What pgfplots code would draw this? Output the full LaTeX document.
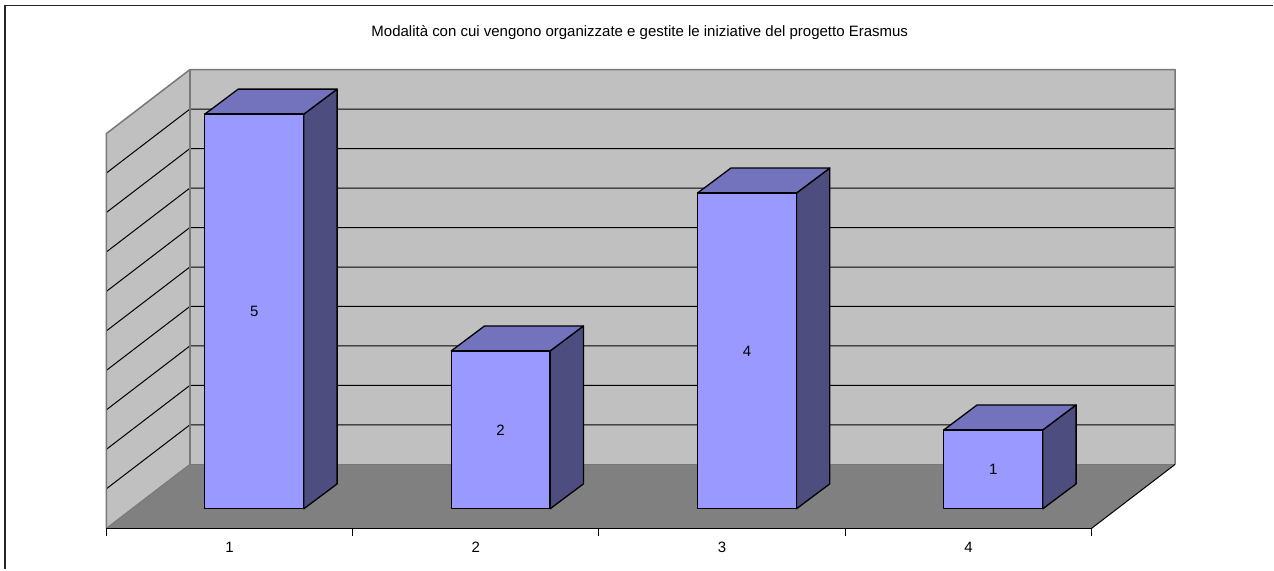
\documentclass[border=0pt]{standalone}
\usepackage{fontspec}
\setmainfont{Liberation Sans}
\usepackage{pgfplots}
\pgfplotsset{compat=1.18}

\definecolor{wall}{HTML}{C0C0C0}
\definecolor{floorgray}{HTML}{808080}
\definecolor{edgegray}{HTML}{787878}
\definecolor{barfront}{HTML}{9999FF}
\definecolor{bartop}{HTML}{7373BD}
\definecolor{barside}{HTML}{4D4D80}

\pgfplotsset{
	gridl/.style={black, line width=1pt, line join=round},
	front/.style={fill=barfront, draw=black, line width=1.3pt, line join=round},
	topf/.style={fill=bartop, draw=black, line width=1.3pt, line join=round},
	sidef/.style={fill=barside, draw=black, line width=1.3pt, line join=round},
}

\begin{document}
\begin{tikzpicture}
\begin{axis}[
	scale only axis,
	width=986pt, height=459pt,
	xmin=0.5, xmax=4.5,
	ymin=-0.2468, ymax=5.5633,
	clip=false,
	axis on top,
	no markers,
	axis x line*=bottom,
	axis y line=none,
	axis line style={black, line width=1.3pt},
	xtick={1,2,3,4},
	xticklabels={1,2,3,4},
	major tick length=0pt,
	tick align=outside,
	tick style={black, line width=1pt},
	extra x ticks={0.5,1.5,2.5,3.5,4.5},
	extra x tick labels={},
	extra x tick style={major tick length=8pt, tick align=outside},
	xticklabel shift=10.3pt,
	tick label style={font=\fontsize{15}{18}\selectfont},
	/pgf/number format/assume math mode=true,
	every axis title shift=0pt,
	title={Modalità con cui vengono organizzate e gestite le iniziative del progetto Erasmus},
	title style={at={(axis description cs:0.5414,1.080)}, anchor=center, font=\fontsize{15}{18}\selectfont},
]
	% outer frame (left and top only)
	\addplot[black!85, line width=1.8pt] coordinates {(0.0887,-0.7658)(0.0887,6.3760)(5.2368,6.3760)};

	% walls and floor
	\addplot[fill=wall, draw=none] coordinates {(0.5,-0.2468)(0.5,4.7532)(0.8391,5.5633)(4.8391,5.5633)(4.8391,0.5633)(0.8391,0.5633)} -- cycle;
	\addplot[fill=floorgray, draw=none] coordinates {(0.5,-0.2468)(0.8391,0.5633)(4.8391,0.5633)(4.5,-0.2468)} -- cycle;

	% gridlines at 0.5 steps, side wall then back wall
	\addplot[gridl] coordinates {(0.5,0.2532)(0.8391,1.0633)(4.8391,1.0633)};
	\addplot[gridl] coordinates {(0.5,0.7532)(0.8391,1.5633)(4.8391,1.5633)};
	\addplot[gridl] coordinates {(0.5,1.2532)(0.8391,2.0633)(4.8391,2.0633)};
	\addplot[gridl] coordinates {(0.5,1.7532)(0.8391,2.5633)(4.8391,2.5633)};
	\addplot[gridl] coordinates {(0.5,2.2532)(0.8391,3.0633)(4.8391,3.0633)};
	\addplot[gridl] coordinates {(0.5,2.7532)(0.8391,3.5633)(4.8391,3.5633)};
	\addplot[gridl] coordinates {(0.5,3.2532)(0.8391,4.0633)(4.8391,4.0633)};
	\addplot[gridl] coordinates {(0.5,3.7532)(0.8391,4.5633)(4.8391,4.5633)};
	\addplot[gridl] coordinates {(0.5,4.2532)(0.8391,5.0633)(4.8391,5.0633)};

	% wall outlines
	\addplot[edgegray, line width=1.5pt, line join=round] coordinates {(0.5,-0.2468)(0.5,4.7532)(0.8391,5.5633)(4.8391,5.5633)(4.8391,0.5633)};
	\addplot[edgegray, line width=1.5pt] coordinates {(0.8391,5.5633)(0.8391,0.5633)(4.8391,0.5633)};
	\addplot[edgegray, line width=1pt] coordinates {(0.5,-0.2468)(0.8391,0.5633)};
	\addplot[black, line width=1pt] coordinates {(4.5,-0.2468)(4.8391,0.5633)};

	% bar 1, value 5
	\addplot[sidef] coordinates {(1.3016,0)(1.4371,0.3165)(1.4371,5.3165)(1.3016,5)} -- cycle;
	\addplot[topf] coordinates {(0.9,5)(1.0355,5.3165)(1.4371,5.3165)(1.3016,5)} -- cycle;
	\addplot[front] coordinates {(0.9,0)(0.9,5)(1.3016,5)(1.3016,0)} -- cycle;
	% bar 2, value 2
	\addplot[sidef] coordinates {(2.3016,0)(2.4371,0.3165)(2.4371,2.3165)(2.3016,2)} -- cycle;
	\addplot[topf] coordinates {(1.9,2)(2.0355,2.3165)(2.4371,2.3165)(2.3016,2)} -- cycle;
	\addplot[front] coordinates {(1.9,0)(1.9,2)(2.3016,2)(2.3016,0)} -- cycle;
	% bar 3, value 4
	\addplot[sidef] coordinates {(3.3016,0)(3.4371,0.3165)(3.4371,4.3165)(3.3016,4)} -- cycle;
	\addplot[topf] coordinates {(2.9,4)(3.0355,4.3165)(3.4371,4.3165)(3.3016,4)} -- cycle;
	\addplot[front] coordinates {(2.9,0)(2.9,4)(3.3016,4)(3.3016,0)} -- cycle;
	% bar 4, value 1
	\addplot[sidef] coordinates {(4.3016,0)(4.4371,0.3165)(4.4371,1.3165)(4.3016,1)} -- cycle;
	\addplot[topf] coordinates {(3.9,1)(4.0355,1.3165)(4.4371,1.3165)(4.3016,1)} -- cycle;
	\addplot[front] coordinates {(3.9,0)(3.9,1)(4.3016,1)(4.3016,0)} -- cycle;

	\node[font=\fontsize{15}{18}\selectfont] at (axis cs:1.1008,2.5) {5};
	\node[font=\fontsize{15}{18}\selectfont] at (axis cs:2.1008,1) {2};
	\node[font=\fontsize{15}{18}\selectfont] at (axis cs:3.1008,2) {4};
	\node[font=\fontsize{15}{18}\selectfont] at (axis cs:4.1008,0.5) {1};

	\coordinate (pagell) at (axis cs:0.0684,-0.7569);
	\coordinate (pageur) at (axis cs:5.2368,6.4456);
\end{axis}
\useasboundingbox (pagell) rectangle (pageur);
\end{tikzpicture}
\end{document}
